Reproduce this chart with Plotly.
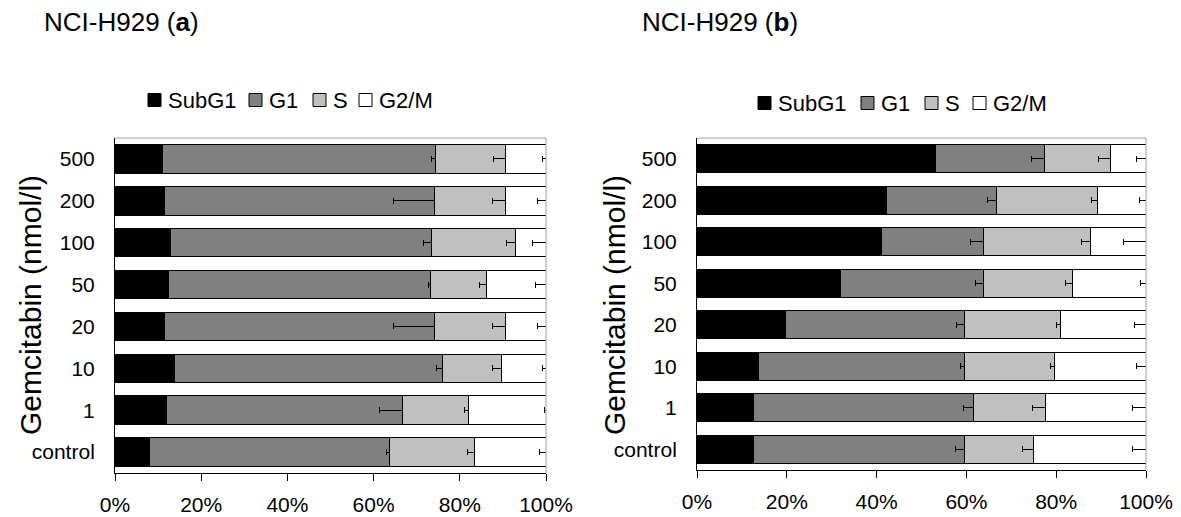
import plotly.graph_objects as go

W, H = 1181, 517
FONT = "Liberation Sans, Arial, sans-serif"

# Gemcitabine concentrations, bottom to top
doses = ["control", "1", "10", "20", "50", "100", "200", "500"]
phases = ["SubG1", "G1", "S", "G2/M"]
phase_colors = ["#000000", "#808080", "#c0c0c0", "#ffffff"]

# Panel (a): share of cells per phase (%), same order as doses
a_subg1 = [8.0, 12.0, 13.9, 11.4, 12.5, 12.8, 11.4, 11.0]
a_g1 = [55.6, 54.6, 62.1, 62.8, 60.7, 60.6, 62.8, 63.4]
a_s = [19.9, 15.5, 13.7, 16.3, 13.0, 19.5, 16.3, 16.1]
a_g2m = [16.5, 17.9, 10.3, 9.5, 13.8, 7.1, 9.5, 9.5]
# Panel (a): error (SD) per phase
a_g1_err = [0.7, 5.3, 1.5, 9.5, 0.5, 1.9, 9.5, 0.9]
a_s_err = [1.6, 1.0, 2.1, 2.9, 1.7, 2.1, 2.9, 2.7]
a_g2m_err = [1.6, 0.4, 0.8, 1.9, 2.4, 3.2, 1.9, 0.8]

# Panel (b): share of cells per phase (%)
b_subg1 = [12.5, 12.5, 13.8, 19.8, 32.0, 41.0, 42.3, 53.2]
b_g1 = [47.1, 49.1, 45.8, 39.8, 31.8, 22.8, 24.4, 24.1]
b_s = [15.3, 16.1, 20.1, 21.4, 19.8, 23.9, 22.4, 14.8]
b_g2m = [25.1, 22.3, 20.3, 19.0, 16.4, 12.3, 10.9, 7.9]
# Panel (b): error (SD) per phase
b_g1_err = [2.0, 2.2, 1.0, 1.9, 1.8, 2.8, 2.0, 2.9]
b_s_err = [2.4, 2.9, 1.0, 1.0, 1.6, 2.1, 1.3, 2.7]
b_g2m_err = [2.9, 2.9, 2.2, 2.6, 1.3, 5.0, 1.4, 2.2]

x_ticks = [0, 20, 40, 60, 80, 100]
tick_text = [f"{t}%" for t in x_ticks]

panels = [
    dict(vals=[a_subg1, a_g1, a_s, a_g2m], errs=[None, a_g1_err, a_s_err, a_g2m_err],
         xa="x", ya="y", title="NCI-H929 (<b>a</b>)",
         px=(115, 546), py=(138, 473), title_x=42, ytitle_x=30,
         leg_x=[148, 249, 313, 359], leg_y=100),
    dict(vals=[b_subg1, b_g1, b_s, b_g2m], errs=[None, b_g1_err, b_s_err, b_g2m_err],
         xa="x2", ya="y2", title="NCI-H929 (<b>b</b>)",
         px=(697, 1146), py=(138, 470), title_x=640, ytitle_x=614,
         leg_x=[758, 861, 925, 973], leg_y=103),
]

fig = go.Figure()
for p in panels:
    for name, color, vals, err in zip(phases, phase_colors, p["vals"], p["errs"]):
        kw = {}
        if err is not None:
            kw["error_x"] = dict(type="data", symmetric=False,
                                 array=[0] * len(err), arrayminus=err,
                                 color="#000000", thickness=1, width=3)
        fig.add_trace(go.Bar(
            y=doses, x=vals, name=name, orientation="h",
            marker=dict(color=color, line=dict(color="#000000", width=1)),
            xaxis=p["xa"], yaxis=p["ya"], showlegend=False,
            width=0.68, **kw))

layout = dict(
    width=W, height=H, margin=dict(l=0, r=0, t=0, b=0, autoexpand=False),
    paper_bgcolor="white", plot_bgcolor="white",
    barmode="stack", font=dict(family=FONT, size=21, color="#000000"),
    showlegend=False,
)


def xdom(px):
    return [px[0] / W, px[1] / W]


def ydom(py):
    return [(H - py[1]) / H, (H - py[0]) / H]


def px_x(v):
    return v / W


def px_y(v):
    return (H - v) / H


shapes = []
annotations = []
SQ = 13  # legend key size, px
for i, p in enumerate(panels):
    sfx = "" if i == 0 else "2"
    layout["xaxis" + sfx] = dict(
        domain=xdom(p["px"]), range=[0, 100], anchor="y" + sfx,
        tickvals=x_ticks, ticktext=tick_text, ticks="outside", ticklen=7,
        tickcolor="#000000", showline=True, linecolor="#000000", linewidth=1,
        showgrid=False, zeroline=False, fixedrange=True, automargin=False,
        tickfont=dict(size=21), ticklabelstandoff=6)
    layout["yaxis" + sfx] = dict(
        domain=ydom(p["py"]), type="category", anchor="x" + sfx,
        categoryorder="array", categoryarray=doses,
        showline=True, linecolor="#000000", linewidth=1, ticks="",
        showgrid=False, zeroline=False, fixedrange=True, automargin=False,
        tickfont=dict(size=21), ticklabelstandoff=15)
    # light frame on the top and right of the plot area
    xr = "x" + sfx + " domain"
    yr = "y" + sfx + " domain"
    shapes.append(dict(type="line", xref=xr, yref=yr, x0=0, x1=1, y0=1, y1=1,
                       line=dict(color="#a0a0a0", width=1)))
    shapes.append(dict(type="line", xref=xr, yref=yr, x0=1, x1=1, y0=0, y1=1,
                       line=dict(color="#a0a0a0", width=1)))
    # panel title
    annotations.append(dict(
        text=p["title"], xref="paper", yref="paper",
        x=px_x(p["title_x"]), y=px_y(22), xanchor="left", yanchor="middle",
        showarrow=False, font=dict(size=26)))
    # y-axis title
    annotations.append(dict(
        text="Gemcitabin (nmol/l)", xref="paper", yref="paper", textangle=-90,
        x=px_x(p["ytitle_x"]), y=px_y(305), xanchor="center", yanchor="middle",
        showarrow=False, font=dict(size=30)))
    # legend: key squares and labels
    for name, color, lx in zip(phases, phase_colors, p["leg_x"]):
        cy = p["leg_y"]
        shapes.append(dict(type="rect", xref="paper", yref="paper",
                           x0=px_x(lx), x1=px_x(lx + SQ),
                           y0=px_y(cy + SQ / 2), y1=px_y(cy - SQ / 2),
                           fillcolor=color, line=dict(color="#000000", width=1)))
        annotations.append(dict(
            text=name, xref="paper", yref="paper",
            x=px_x(lx + SQ + 5), y=px_y(cy), xanchor="left", yanchor="middle",
            showarrow=False, font=dict(size=22)))

layout["shapes"] = shapes
layout["annotations"] = annotations
fig.update_layout(**layout)

fig.write_html("out.html")
